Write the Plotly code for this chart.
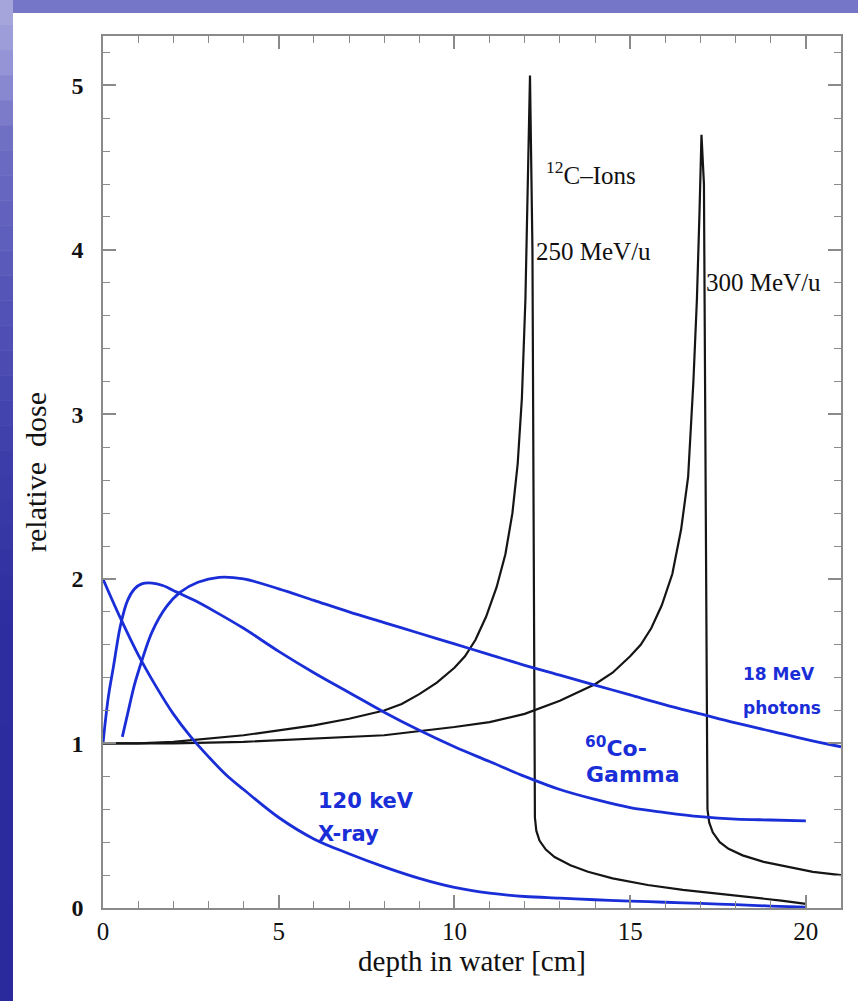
import plotly.graph_objects as go

# ---------------- data ----------------
xray_depth = [0, 0.5, 1, 1.5, 2, 2.5, 3, 3.5, 4, 5, 6, 7, 8, 9, 10, 11, 12, 13, 14, 15, 16, 17, 18, 19, 20]
xray_dose = [2.0, 1.76, 1.54, 1.35, 1.18, 1.04, 0.92, 0.81, 0.72, 0.55, 0.42, 0.33, 0.25, 0.18, 0.125,
             0.09, 0.07, 0.06, 0.05, 0.042, 0.035, 0.028, 0.02, 0.012, 0.005]

co_depth = [0, 0.15, 0.3, 0.5, 0.7, 0.9, 1.1, 1.4, 1.7, 2.1, 2.6, 3.2, 4, 5, 6, 7, 8, 9, 10, 11, 12,
            13, 14, 15, 16, 17, 18, 19, 20]
co_dose = [1.0, 1.28, 1.47, 1.72, 1.87, 1.94, 1.97, 1.975, 1.96, 1.92, 1.87, 1.80, 1.70, 1.56, 1.43,
           1.31, 1.19, 1.08, 0.98, 0.89, 0.80, 0.72, 0.66, 0.61, 0.58, 0.555, 0.54, 0.535, 0.53]

mv18_depth = [0.55, 0.7, 0.9, 1.1, 1.4, 1.8, 2.2, 2.7, 3.3, 4.0, 5.0, 6.0, 7.0, 8.0, 9.0, 10.0, 11.0,
              12.0, 13.0, 14.0, 15.0, 16.0, 17.0, 18.0, 19.0, 20.0, 21.0]
mv18_dose = [1.04, 1.18, 1.36, 1.50, 1.68, 1.83, 1.92, 1.98, 2.01, 2.00, 1.94, 1.87, 1.80, 1.735, 1.67,
             1.605, 1.54, 1.475, 1.415, 1.355, 1.295, 1.235, 1.18, 1.125, 1.075, 1.025, 0.98]

c250_depth = [0, 1, 2, 3, 4, 5, 6, 7, 8, 8.5, 9, 9.5, 10, 10.3, 10.6, 10.9, 11.2, 11.45, 11.65, 11.8,
              11.92, 12.02, 12.1, 12.15, 12.22, 12.26, 12.29, 12.33, 12.42, 12.6, 12.85, 13.3, 13.8,
              14.5, 15.5, 16.5, 17.5, 18.5, 19.3, 20]
c250_dose = [1.0, 1.0, 1.01, 1.03, 1.05, 1.08, 1.11, 1.15, 1.20, 1.24, 1.30, 1.37, 1.46, 1.53, 1.63,
             1.77, 1.95, 2.15, 2.40, 2.70, 3.10, 3.70, 4.50, 5.06, 4.0, 2.0, 0.55, 0.47, 0.41, 0.355,
             0.31, 0.26, 0.22, 0.18, 0.14, 0.11, 0.088, 0.065, 0.045, 0.025]

c300_depth = [0, 2, 4, 6, 8, 10, 11, 12, 13, 13.5, 14, 14.5, 15, 15.3, 15.6, 15.9, 16.2, 16.45, 16.65,
              16.8, 16.9, 16.97, 17.03, 17.1, 17.16, 17.2, 17.25, 17.35, 17.55, 17.8, 18.2, 18.8,
              19.5, 20.2, 21]
c300_dose = [1.0, 1.0, 1.01, 1.03, 1.05, 1.10, 1.13, 1.18, 1.26, 1.31, 1.36, 1.43, 1.53, 1.60, 1.70,
             1.84, 2.03, 2.30, 2.62, 3.2, 3.7, 4.2, 4.70, 4.4, 2.5, 0.6, 0.52, 0.46, 0.40, 0.36, 0.32,
             0.28, 0.25, 0.22, 0.20]

x_ticks = [0, 5, 10, 15, 20]
y_ticks = [0, 1, 2, 3, 4, 5]

BLUE = "#1a2ed8"
BLACK = "#151515"
AXIS = "#8a8a8a"

fig = go.Figure()

for xs, ys in [(c250_depth, c250_dose), (c300_depth, c300_dose)]:
    fig.add_trace(go.Scatter(x=xs, y=ys, mode="lines",
                             line=dict(color=BLACK, width=2.2), showlegend=False, hoverinfo="skip"))

for xs, ys in [(xray_depth, xray_dose), (co_depth, co_dose), (mv18_depth, mv18_dose)]:
    fig.add_trace(go.Scatter(x=xs, y=ys, mode="lines", line_shape="spline",
                             line=dict(color=BLUE, width=2.8), showlegend=False, hoverinfo="skip"))

serif = "Liberation Serif"
sans = "DejaVu Sans"

annots = [
    dict(x=12.55, y=4.47, text="<sup>12</sup>C\u2013Ions", font=dict(family=serif, size=25, color="#111")),
    dict(x=12.27, y=3.99, text="250 MeV/u", font=dict(family=serif, size=25, color="#111")),
    dict(x=17.1, y=3.8, text="300 MeV/u", font=dict(family=serif, size=25, color="#111")),
    dict(x=18.15, y=1.42, text="<b>18 MeV</b>", font=dict(family=sans, size=17, color=BLUE)),
    dict(x=18.15, y=1.215, text="<b>photons</b>", font=dict(family=sans, size=17, color=BLUE)),
    dict(x=13.65, y=0.98, text="<b><sup>60</sup>Co-</b>", font=dict(family=sans, size=22, color=BLUE)),
    dict(x=13.7, y=0.81, text="<b>Gamma</b>", font=dict(family=sans, size=22, color=BLUE)),
    dict(x=6.05, y=0.65, text="<b>120 keV</b>", font=dict(family=sans, size=21, color=BLUE)),
    dict(x=6.05, y=0.45, text="<b>X-ray</b>", font=dict(family=sans, size=21, color=BLUE)),
]
for a in annots:
    fig.add_annotation(xref="x", yref="y", xanchor="left", yanchor="middle", showarrow=False, **a)

# ---------------- decorative slide background ----------------
W, H = 858, 1001
L, R, T, B = 103, 17, 36, 93
pw, ph = W - L - R, H - T - B


def px2x(px):
    return (px - L) / pw


def py2y(py):
    return (H - B - py) / ph


shapes = []
stops = [(0, (170, 170, 222)), (60, (150, 150, 215)), (140, (110, 110, 196)), (300, (84, 84, 184)),
         (460, (62, 62, 170)), (620, (46, 46, 160)), (1001, (42, 42, 156))]
nb = 40
for i in range(nb):
    y0p = H * i / nb
    y1p = H * (i + 1) / nb
    ym = (y0p + y1p) / 2
    for j in range(len(stops) - 1):
        if stops[j][0] <= ym <= stops[j + 1][0]:
            t = (ym - stops[j][0]) / (stops[j + 1][0] - stops[j][0])
            c = tuple(int(stops[j][1][k] + t * (stops[j + 1][1][k] - stops[j][1][k])) for k in range(3))
            break
    shapes.append(dict(type="rect", xref="paper", yref="paper", x0=px2x(0), x1=px2x(13),
                       y0=py2y(y1p + 0.5), y1=py2y(y0p), fillcolor="rgb(%d,%d,%d)" % c,
                       line=dict(width=0), layer="below"))
shapes.append(dict(type="rect", xref="paper", yref="paper", x0=px2x(13), x1=px2x(W),
                   y0=py2y(13), y1=py2y(0), fillcolor="rgb(118,118,200)", line=dict(width=0),
                   layer="below"))

axis_common = dict(showline=True, linecolor=AXIS, linewidth=1.6, mirror="ticks", ticks="inside",
                   tickcolor=AXIS, tickwidth=1.5, ticklen=13, showgrid=False, zeroline=False,
                   automargin=False)

fig.update_layout(
    width=W, height=H,
    margin=dict(l=L, r=R, t=T, b=B, pad=0, autoexpand=False),
    paper_bgcolor="white", plot_bgcolor="white",
    shapes=shapes,
    xaxis=dict(range=[0, 21], tickvals=x_ticks, ticktext=[str(v) for v in x_ticks],
               minor=dict(dtick=1, ticks="inside", ticklen=7, tickcolor=AXIS, tickwidth=1.2),
               tickfont=dict(family=serif, size=25, color="#111"), ticklabelstandoff=0,
               title=dict(text="depth in water [cm]", font=dict(family=serif, size=29, color="#111"),
                          standoff=4),
               **axis_common),
    yaxis=dict(range=[0, 5.3], tickvals=y_ticks, ticktext=["<b>%d</b>" % v for v in y_ticks],
               minor=dict(dtick=0.2, ticks="inside", ticklen=7, tickcolor=AXIS, tickwidth=1.2),
               tickfont=dict(family=serif, size=24, color="#111"), ticklabelstandoff=13,
               title=dict(text="relative  dose", font=dict(family=serif, size=30, color="#111"),
                          standoff=16),
               **axis_common),
)

fig.write_html("out.html", config={"displayModeBar": False},
               post_script="document.body.style.margin='0px';document.body.style.overflow='hidden';")
